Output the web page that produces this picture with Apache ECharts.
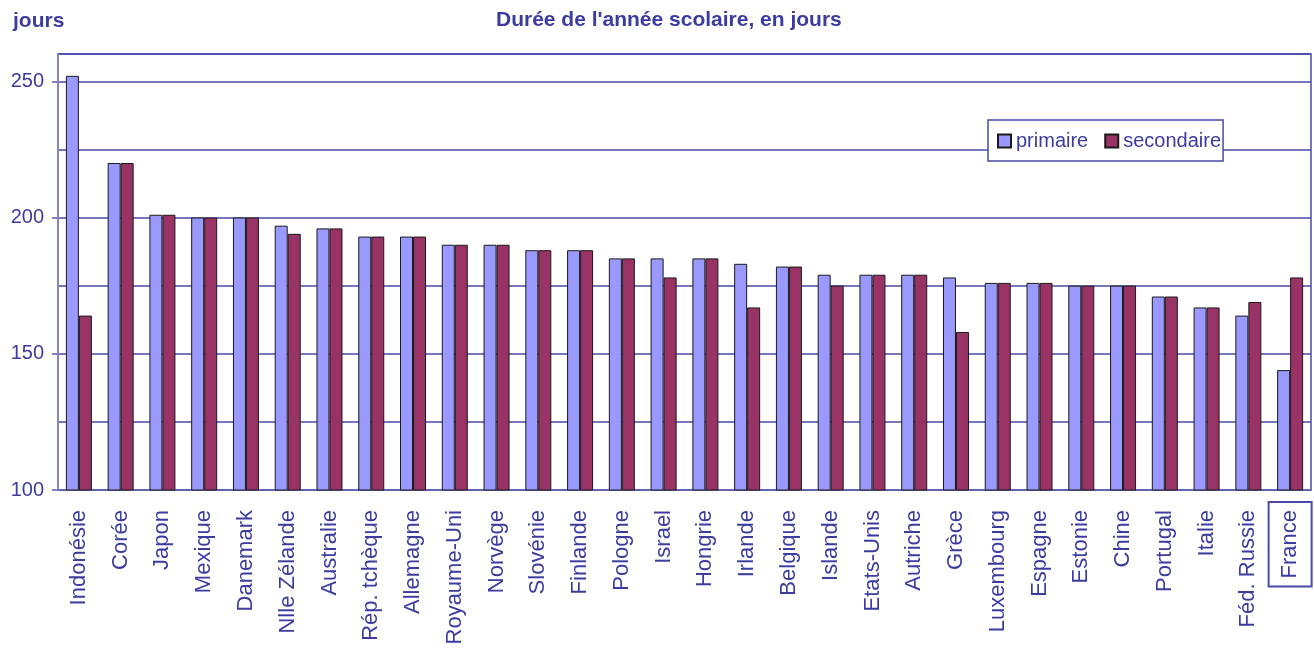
<!DOCTYPE html>
<html>
<head>
<meta charset="utf-8">
<title>Durée de l'année scolaire</title>
<script src="https://cdn.jsdelivr.net/npm/echarts@6.0.0/dist/echarts.min.js"></script>
<style>
  html, body { margin: 0; padding: 0; background: #fff; }
  #chart { width: 1314px; height: 651px; }
</style>
</head>
<body>
<div id="chart"></div>
<script>
// pays, triés comme dans le graphique
const pays = ['Indonésie', 'Corée', 'Japon', 'Mexique', 'Danemark', 'Nlle Zélande', 'Australie',
  'Rép. tchèque', 'Allemagne', 'Royaume-Uni', 'Norvège', 'Slovénie', 'Finlande', 'Pologne',
  'Israel', 'Hongrie', 'Irlande', 'Belgique', 'Islande', 'Etats-Unis', 'Autriche', 'Grèce',
  'Luxembourg', 'Espagne', 'Estonie', 'Chine', 'Portugal', 'Italie', 'Féd. Russie', 'France']

// jours d'école par an
const primaire = [252, 220, 201, 200, 200, 197, 196, 193, 193, 190, 190, 188, 188, 185, 185,
  185, 183, 182, 179, 179, 179, 178, 176, 176, 175, 175, 171, 167, 164, 144]
const secondaire = [164, 220, 201, 200, 200, 194, 196, 193, 193, 190, 190, 188, 188, 185, 178,
  185, 167, 182, 175, 179, 179, 158, 176, 176, 175, 175, 171, 167, 169, 178]

const yTicks = [100, 150, 200, 250]
const paysEncadre = 'France'

const bleu = '#3b3ba0'
const trait = '#4a4aa8'

const chart = echarts.init(document.getElementById('chart'))

chart.setOption({
  animation: false,
  textStyle: { fontFamily: 'Liberation Sans, Arial, sans-serif' },
  title: [
    {
      text: "Durée de l'année scolaire, en jours",
      left: 491,
      top: 5,
      textStyle: { color: bleu, fontSize: 21, fontWeight: 'bold' }
    },
    {
      text: 'jours',
      left: 8,
      top: 6,
      textStyle: { color: bleu, fontSize: 21, fontWeight: 'bold' }
    }
  ],
  legend: {
    left: 988,
    top: 120,
    icon: 'rect',
    itemWidth: 13,
    itemHeight: 13,
    itemGap: 16,
    padding: [11, 2, 10, 9],
    backgroundColor: '#fff',
    borderColor: trait,
    borderWidth: 1.5,
    textStyle: { color: bleu, fontSize: 20 },
    data: ['primaire', 'secondaire']
  },
  grid: {
    left: 58,
    right: 3,
    top: 54,
    bottom: 161,
    show: true,
    borderColor: trait,
    borderWidth: 1.5
  },
  xAxis: {
    type: 'category',
    data: pays.map(p => p === paysEncadre
      ? { value: p, textStyle: { borderColor: trait, borderWidth: 2 } }
      : p),
    axisLine: { lineStyle: { color: '#6a6ab6', width: 1.5 } },
    axisTick: { length: 7, lineStyle: { color: '#6a6ab6', width: 1.5 } },
    axisLabel: {
      interval: 0,
      rotate: 90,
      margin: 12,
      padding: [10, 8, 11, 8],
      color: bleu,
      fontSize: 22
    }
  },
  yAxis: [
    {
      type: 'value',
      min: 100,
      max: 260,
      interval: 50,
      axisLine: { show: true, lineStyle: { color: '#8484c4', width: 2 } },
      axisTick: { show: true, length: 6, customValues: yTicks, lineStyle: { color: '#8484c4', width: 2 } },
      axisLabel: {
        margin: 14,
        color: bleu,
        fontSize: 20,
        customValues: yTicks,
        formatter: v => (yTicks.indexOf(v) >= 0 ? v : '')
      },
      splitLine: { show: false }
    },
    {
      // seulement pour les lignes de grille tous les 25
      type: 'value',
      min: 100,
      max: 260,
      interval: 25,
      axisLine: { show: false },
      axisTick: { show: false },
      axisLabel: { show: false },
      splitLine: { show: true, lineStyle: { color: trait, width: 1.5 } }
    }
  ],
  series: [
    {
      name: 'primaire',
      type: 'bar',
      data: primaire,
      barWidth: 13,
      barGap: '0%',
      itemStyle: { color: '#9999ff', borderColor: '#1a1a1a', borderWidth: 1 }
    },
    {
      name: 'secondaire',
      type: 'bar',
      data: secondaire,
      barWidth: 13,
      itemStyle: { color: '#993366', borderColor: '#1a1a1a', borderWidth: 1 }
    }
  ]
})
</script>
</body>
</html>
